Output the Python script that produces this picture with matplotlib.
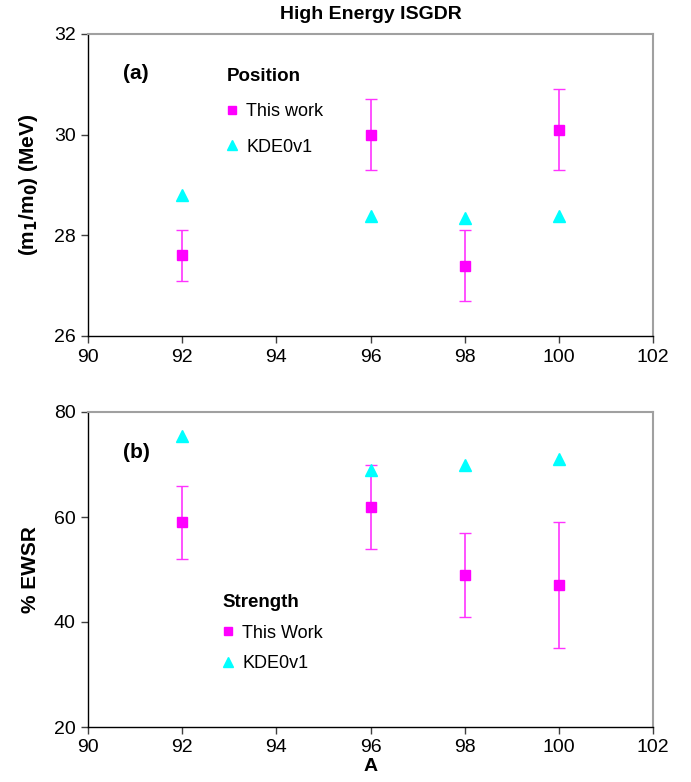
import matplotlib
matplotlib.use("Agg")
import matplotlib.pyplot as plt

plt.rcParams['font.family'] = ['Liberation Sans', 'DejaVu Sans']

# data
mass = [92, 96, 98, 100]

pos_this = [27.6, 30.0, 27.4, 30.1]
pos_lo = [27.1, 29.3, 26.7, 29.3]
pos_hi = [28.1, 30.7, 28.1, 30.9]
pos_kde = [28.8, 28.38, 28.35, 28.38]

str_this = [59, 62, 49, 47]
str_lo = [52, 54, 41, 35]
str_hi = [66, 70, 57, 59]
str_kde = [75.5, 69, 70, 71]

x_ticks = [90, 92, 94, 96, 98, 100, 102]

fig = plt.figure(figsize=(6.91, 7.82), dpi=100)
W, H = 691, 782
ax1 = fig.add_axes([88 / W, 1 - 336 / H, 565 / W, 302 / H])
ax2 = fig.add_axes([88 / W, 1 - 727 / H, 565 / W, 315 / H])


def style(ax, yticks):
    ax.set_xlim(90, 102)
    ax.set_xticks(x_ticks)
    ax.set_ylim(yticks[0], yticks[-1])
    ax.set_yticks(yticks)
    for s in ['top', 'right']:
        ax.spines[s].set_color('#a0a0a0')
        ax.spines[s].set_linewidth(1.5)
    for s in ['left', 'bottom']:
        ax.spines[s].set_color('black')
        ax.spines[s].set_linewidth(1.0)
    ax.tick_params(axis='both', direction='out', length=5, width=1,
                   labelsize=14, color='#404040', pad=4)


def draw(ax, this, lo, hi, kde, lab_this, title, anchor, spacing):
    err = [[t - l for t, l in zip(this, lo)], [h - t for t, h in zip(this, hi)]]
    ax.errorbar(mass, this, yerr=err, fmt='none', ecolor='#ff33ff',
                elinewidth=1.2, capsize=4, capthick=1.0, zorder=2)
    h1, = ax.plot(mass, this, 's', color='#ff00ff', markersize=7,
                  linestyle='none', label=lab_this, zorder=3)
    h2, = ax.plot(mass, kde, '^', color='#00ffff', markersize=8,
                  linestyle='none', label='KDE0v1', zorder=3)
    leg = ax.legend(handles=[h1, h2], title=title, frameon=False,
                    loc='upper left', bbox_to_anchor=anchor, fontsize=13,
                    handlelength=0.6, handletextpad=0.5, labelspacing=spacing,
                    markerscale=0.85, borderaxespad=0)
    leg.get_title().set_fontweight('bold')
    leg.get_title().set_fontsize(13.5)
    leg._legend_box.align = 'left'


style(ax1, [26, 28, 30, 32])
draw(ax1, pos_this, pos_lo, pos_hi, pos_kde, 'This work', 'Position', (0.232, 0.91), 1.0)
ax1.text(0.062, 0.87, '(a)', transform=ax1.transAxes, fontsize=15,
         fontweight='bold', va='center')
ax1.set_ylabel('(m$_\\mathbf{1}$/m$_\\mathbf{0}$) (MeV)', fontsize=15,
               fontweight='bold', labelpad=10)
ax1.set_title('High Energy ISGDR', fontsize=14, fontweight='bold', pad=11)

style(ax2, [20, 40, 60, 80])
draw(ax2, str_this, str_lo, str_hi, str_kde, 'This Work', 'Strength', (0.225, 0.445), 0.75)
ax2.text(0.062, 0.87, '(b)', transform=ax2.transAxes, fontsize=15,
         fontweight='bold', va='center')
ax2.set_ylabel('% EWSR', fontsize=15, fontweight='bold', labelpad=10)
ax2.set_xlabel('A', fontsize=14, fontweight='bold', labelpad=1)

fig.savefig('out.png', dpi=100)
